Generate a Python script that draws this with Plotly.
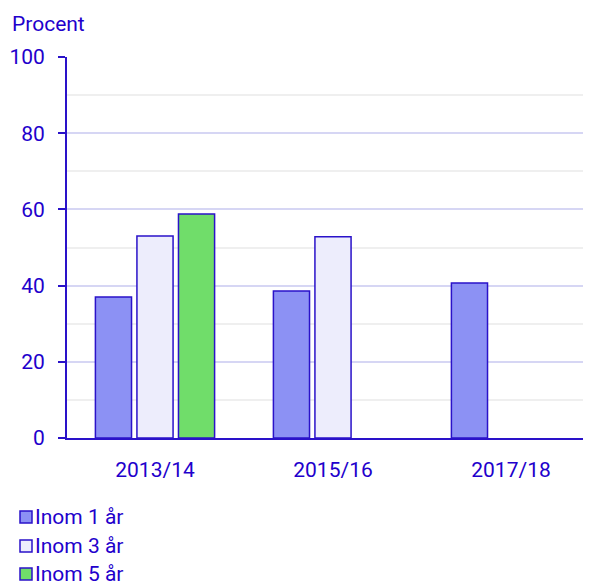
import plotly.graph_objects as go

categories = ["2013/14", "2015/16", "2017/18"]
inom1 = [37.0, 38.6, 40.7]
inom3 = [53.0, 52.8, None]
inom5 = [58.8, None, None]
series_names = ["Inom 1 år", "Inom 3 år", "Inom 5 år"]
y_ticks = [0, 20, 40, 60, 80, 100]

blue = "#2a12c9"
text_col = "#2200cc"
fills = ["#8c91f4", "#ededfc", "#70dd6a"]

# page body has an 8px margin; targets below are in figure pixels
W, H = 591, 582
L, R, T, B = 59, 0, 49, 152
pw, ph = W - L - R, H - T - B
FS = 21

def px_x(x):
    return (x - L) / pw

def px_y(y):
    return (H - B - y) / ph

fig = go.Figure()
for i, (name, vals) in enumerate(zip(series_names, [inom1, inom3, inom5])):
    fig.add_trace(go.Bar(
        x=categories, y=vals, name=name,
        marker=dict(color=fills[i], line=dict(color=blue, width=1.5)),
        showlegend=False,
    ))

shapes = []
annotations = [dict(text="Procent", xref="paper", yref="paper",
                    x=px_x(2), y=px_y(16), xanchor="left", yanchor="middle",
                    showarrow=False, font=dict(size=FS, color=text_col))]
rows = [509, 538, 566]
for i, name in enumerate(series_names):
    yc = rows[i]
    shapes.append(dict(type="rect", xref="paper", yref="paper",
                       x0=px_x(12), x1=px_x(24), y0=px_y(yc - 6), y1=px_y(yc + 6),
                       fillcolor=fills[i], line=dict(color=blue, width=1.5)))
    annotations.append(dict(text=name, xref="paper", yref="paper",
                            x=px_x(25), y=px_y(yc), xanchor="left", yanchor="middle",
                            showarrow=False, font=dict(size=FS, color=text_col)))

fig.update_layout(
    width=W, height=H, autosize=False,
    margin=dict(l=L, r=R, t=T, b=B, autoexpand=False),
    plot_bgcolor="white", paper_bgcolor="white",
    font=dict(family="Roboto", size=FS, color=text_col),
    barmode="group", bargap=0.30, bargroupgap=0.13,
    showlegend=False,
    xaxis=dict(range=[-0.5 + 1 / 178, -0.5 + (pw + 1) / 178], showline=True, linecolor=blue, linewidth=2,
               ticks="", showgrid=False, ticklabelstandoff=12, automargin=False,
               tickfont=dict(size=FS, color=text_col)),
    yaxis=dict(range=[0, 100], tickvals=y_ticks, showline=True, linecolor=blue, linewidth=2,
               ticks="outside", ticklen=7, tickwidth=2, tickcolor=blue,
               showgrid=True, gridcolor="#d6d6f4", gridwidth=1.5,
               minor=dict(dtick=10, showgrid=True, gridcolor="#efefef", gridwidth=1.5),
               ticklabelstandoff=9, zeroline=False, automargin=False,
               tickfont=dict(size=FS, color=text_col)),
    shapes=shapes,
    annotations=annotations,
)

fig.write_html("out.html")
